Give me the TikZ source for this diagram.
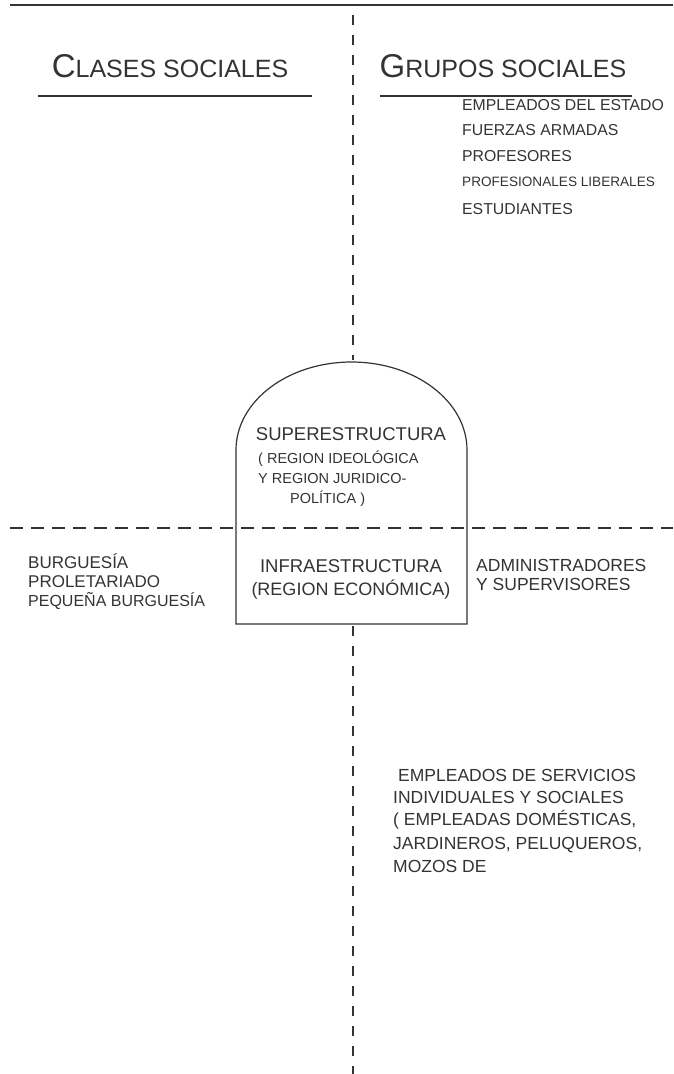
\documentclass[tikz,border=0pt]{standalone}
\usepackage{fontspec}
\setmainfont{Liberation Sans}
\usetikzlibrary{positioning}
\definecolor{InkClr}{rgb}{0.2,0.2,0.2}

\begin{document}
\begin{tikzpicture}[x=1pt,y=-1pt,color=InkClr,
  rule/.style={line width=1.3pt},
  divH/.style={line width=1.1pt,dash pattern=on 13pt off 8pt},
  divV/.style={line width=1.1pt,dash pattern=on 10pt off 10pt},
  head/.style={anchor=base,inner sep=0pt,font=\fontsize{25}{25}\selectfont},
  txt/.style={anchor=base west,inner sep=0pt,font=\fontsize{17}{17}\selectfont},
  small/.style={anchor=base west,inner sep=0pt,font=\fontsize{15.8}{15.8}\selectfont}]
\useasboundingbox (0,0) rectangle (673,1074);

% frame lines
\coordinate (TL) at (10,5);
\coordinate (TR) at (673,5);
\draw[rule] (TL) -- (TR);
\coordinate (VT) at (353,15);
\coordinate (VA) at (353,360);
\coordinate (VB) at (353,626);
\coordinate (VE) at (353,1074);
\draw[divV] (VT) -- (VA);
\draw[divV] (VB) -- (VE);
\coordinate (HL) at (10,528);
\coordinate (HR) at (673,528);
\draw[divH] (HL) -- (HR);

% headings
\node[head] (clases) at (170,77) {{\fontsize{33}{33}\selectfont C}LASES SOCIALES};
\node[head] (grupos) at (503,77) {{\fontsize{33}{33}\selectfont G}RUPOS SOCIALES};
\coordinate (u1) at (38,96);  \coordinate (u2) at (312,96);
\coordinate (u3) at (380,96); \coordinate (u4) at (632,96);
\draw[rule,line width=1.1pt] (u1) -- (u2);
\draw[rule,line width=1.1pt] (u3) -- (u4);

% grupos sociales (arriba)
\node[small] (g1) at (462,110) {EMPLEADOS DEL ESTADO};
\node[small] (g2) at (462,135) {FUERZAS ARMADAS};
\node[small] (g3) at (462,161) {PROFESORES};
\node[small,font=\fontsize{13.6}{13.6}\selectfont] (g4) at (462,186) {PROFESIONALES LIBERALES};
\node[small] (g5) at (462,214) {ESTUDIANTES};

% lapida
\coordinate (bl) at (236,624);
\coordinate (br) at (467,624);
\draw[rule,line width=1.2pt] (bl) -- (236,450) arc[start angle=180,end angle=360,x radius=115.5,y radius=88] -- (br) -- cycle;

\node[anchor=base,inner sep=0pt,font=\fontsize{18.5}{18.5}\selectfont] (sup) at (351,440) {SUPERESTRUCTURA};
\node[txt,font=\fontsize{14.5}{14.5}\selectfont] (s1) at (258,463) {( REGION IDEOLÓGICA};
\node[txt,font=\fontsize{14.5}{14.5}\selectfont] (s2) at (258,483) {Y REGION JURIDICO-};
\node[txt,font=\fontsize{14.5}{14.5}\selectfont] (s3) at (290,503) {POLÍTICA )};

\node[anchor=base,inner sep=0pt,font=\fontsize{18.5}{18.5}\selectfont] (inf) at (351,572) {INFRAESTRUCTURA};
\node[anchor=base,inner sep=0pt,font=\fontsize{18}{18}\selectfont] (eco) at (351,595) {(REGION ECONÓMICA)};

% clases
\node[txt] (c1) at (28,568) {BURGUESÍA};
\node[txt] (c2) at (28,587) {PROLETARIADO};
\node[txt,font=\fontsize{16}{16}\selectfont] (c3) at (28,606) {PEQUEÑA BURGUESÍA};

\node[txt,font=\fontsize{17.5}{17.5}\selectfont] (a1) at (476,571) {ADMINISTRADORES};
\node[txt,font=\fontsize{17.5}{17.5}\selectfont] (a2) at (476,590) {Y SUPERVISORES};

% servicios
\node[txt,font=\fontsize{17.5}{17.5}\selectfont] (e1) at (398,781) {EMPLEADOS DE SERVICIOS};
\node[txt,font=\fontsize{17.5}{17.5}\selectfont] (e2) at (393,803) {INDIVIDUALES Y SOCIALES};
\node[txt,font=\fontsize{17.5}{17.5}\selectfont] (e3) at (393,825) {( EMPLEADAS DOMÉSTICAS,};
\node[txt,font=\fontsize{17.5}{17.5}\selectfont] (e4) at (393,849) {JARDINEROS, PELUQUEROS,};
\node[txt,font=\fontsize{17.5}{17.5}\selectfont] (e5) at (393,872) {MOZOS DE};

\end{tikzpicture}
\end{document}
